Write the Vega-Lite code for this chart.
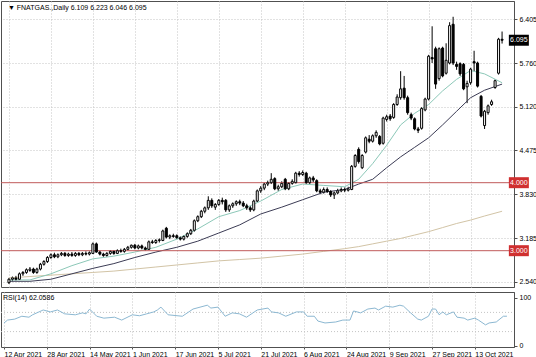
{
"$schema":"https://vega.github.io/schema/vega-lite/v6.json",
"padding":0,
"background":"white",
"spacing":3,
"config":{"view":{"stroke":"#505050","strokeWidth":1},"font":"Liberation Sans","axis":{"labelFont":"Liberation Sans","labelFontSize":7,"labelColor":"#000000","domainColor":"#505050","tickColor":"#505050","title":null}},
"datasets":{
"bars":[
{"i":0,"d":"2021-04-12","o":2.53,"h":2.60,"l":2.51,"c":2.58},
{"i":1,"d":"2021-04-13","o":2.58,"h":2.62,"l":2.55,"c":2.60},
{"i":2,"d":"2021-04-14","o":2.60,"h":2.63,"l":2.56,"c":2.58},
{"i":3,"d":"2021-04-15","o":2.58,"h":2.68,"l":2.57,"c":2.66},
{"i":4,"d":"2021-04-16","o":2.66,"h":2.70,"l":2.63,"c":2.68},
{"i":5,"d":"2021-04-19","o":2.68,"h":2.74,"l":2.66,"c":2.72},
{"i":6,"d":"2021-04-20","o":2.71,"h":2.76,"l":2.69,"c":2.73},
{"i":7,"d":"2021-04-21","o":2.73,"h":2.75,"l":2.66,"c":2.68},
{"i":8,"d":"2021-04-22","o":2.68,"h":2.75,"l":2.66,"c":2.73},
{"i":9,"d":"2021-04-23","o":2.73,"h":2.82,"l":2.71,"c":2.80},
{"i":10,"d":"2021-04-26","o":2.80,"h":2.86,"l":2.78,"c":2.84},
{"i":11,"d":"2021-04-27","o":2.84,"h":2.92,"l":2.82,"c":2.90},
{"i":12,"d":"2021-04-28","o":2.90,"h":2.96,"l":2.88,"c":2.94},
{"i":13,"d":"2021-04-29","o":2.94,"h":2.97,"l":2.89,"c":2.91},
{"i":14,"d":"2021-04-30","o":2.91,"h":2.96,"l":2.89,"c":2.94},
{"i":15,"d":"2021-05-03","o":2.94,"h":2.98,"l":2.92,"c":2.96},
{"i":16,"d":"2021-05-04","o":2.96,"h":2.98,"l":2.91,"c":2.93},
{"i":17,"d":"2021-05-05","o":2.93,"h":2.97,"l":2.91,"c":2.95},
{"i":18,"d":"2021-05-06","o":2.95,"h":2.98,"l":2.91,"c":2.93},
{"i":19,"d":"2021-05-07","o":2.93,"h":2.98,"l":2.91,"c":2.96},
{"i":20,"d":"2021-05-10","o":2.96,"h":2.98,"l":2.92,"c":2.94},
{"i":21,"d":"2021-05-11","o":2.94,"h":2.98,"l":2.92,"c":2.96},
{"i":22,"d":"2021-05-12","o":2.96,"h":2.99,"l":2.93,"c":2.95},
{"i":23,"d":"2021-05-13","o":2.95,"h":2.99,"l":2.93,"c":2.97},
{"i":24,"d":"2021-05-14","o":2.96,"h":3.12,"l":2.95,"c":3.10},
{"i":25,"d":"2021-05-17","o":3.10,"h":3.12,"l":2.97,"c":2.98},
{"i":26,"d":"2021-05-18","o":2.98,"h":3.00,"l":2.93,"c":2.95},
{"i":27,"d":"2021-05-19","o":2.95,"h":2.97,"l":2.91,"c":2.93},
{"i":28,"d":"2021-05-20","o":2.93,"h":2.98,"l":2.91,"c":2.96},
{"i":29,"d":"2021-05-21","o":2.96,"h":3.01,"l":2.94,"c":2.99},
{"i":30,"d":"2021-05-24","o":2.99,"h":3.00,"l":2.94,"c":2.96},
{"i":31,"d":"2021-05-25","o":2.96,"h":3.02,"l":2.95,"c":3.00},
{"i":32,"d":"2021-05-26","o":3.00,"h":3.03,"l":2.97,"c":2.99},
{"i":33,"d":"2021-05-27","o":2.99,"h":3.04,"l":2.97,"c":3.02},
{"i":34,"d":"2021-05-28","o":3.02,"h":3.07,"l":3.00,"c":3.05},
{"i":35,"d":"2021-05-31","o":3.05,"h":3.09,"l":3.03,"c":3.08},
{"i":36,"d":"2021-06-01","o":3.08,"h":3.10,"l":3.02,"c":3.04},
{"i":37,"d":"2021-06-02","o":3.04,"h":3.09,"l":3.02,"c":3.07},
{"i":38,"d":"2021-06-03","o":3.07,"h":3.09,"l":3.02,"c":3.04},
{"i":39,"d":"2021-06-04","o":3.04,"h":3.06,"l":3.00,"c":3.02},
{"i":40,"d":"2021-06-07","o":3.02,"h":3.15,"l":3.01,"c":3.13},
{"i":41,"d":"2021-06-08","o":3.13,"h":3.16,"l":3.10,"c":3.12},
{"i":42,"d":"2021-06-09","o":3.12,"h":3.17,"l":3.10,"c":3.15},
{"i":43,"d":"2021-06-10","o":3.15,"h":3.18,"l":3.12,"c":3.16},
{"i":44,"d":"2021-06-11","o":3.15,"h":3.31,"l":3.14,"c":3.29},
{"i":45,"d":"2021-06-14","o":3.33,"h":3.35,"l":3.18,"c":3.20},
{"i":46,"d":"2021-06-15","o":3.20,"h":3.24,"l":3.17,"c":3.22},
{"i":47,"d":"2021-06-16","o":3.22,"h":3.25,"l":3.19,"c":3.21},
{"i":48,"d":"2021-06-17","o":3.22,"h":3.24,"l":3.17,"c":3.19},
{"i":49,"d":"2021-06-18","o":3.19,"h":3.21,"l":3.15,"c":3.17},
{"i":50,"d":"2021-06-21","o":3.17,"h":3.23,"l":3.15,"c":3.21},
{"i":51,"d":"2021-06-22","o":3.21,"h":3.27,"l":3.19,"c":3.25},
{"i":52,"d":"2021-06-23","o":3.25,"h":3.32,"l":3.23,"c":3.30},
{"i":53,"d":"2021-06-24","o":3.30,"h":3.46,"l":3.28,"c":3.44},
{"i":54,"d":"2021-06-25","o":3.44,"h":3.52,"l":3.42,"c":3.50},
{"i":55,"d":"2021-06-28","o":3.50,"h":3.60,"l":3.48,"c":3.58},
{"i":56,"d":"2021-06-29","o":3.58,"h":3.65,"l":3.55,"c":3.63},
{"i":57,"d":"2021-06-30","o":3.63,"h":3.80,"l":3.60,"c":3.74},
{"i":58,"d":"2021-07-01","o":3.74,"h":3.77,"l":3.63,"c":3.66},
{"i":59,"d":"2021-07-02","o":3.64,"h":3.70,"l":3.60,"c":3.68},
{"i":60,"d":"2021-07-05","o":3.68,"h":3.76,"l":3.66,"c":3.74},
{"i":61,"d":"2021-07-06","o":3.74,"h":3.78,"l":3.68,"c":3.72},
{"i":62,"d":"2021-07-07","o":3.74,"h":3.76,"l":3.57,"c":3.60},
{"i":63,"d":"2021-07-08","o":3.60,"h":3.68,"l":3.57,"c":3.66},
{"i":64,"d":"2021-07-09","o":3.66,"h":3.71,"l":3.63,"c":3.69},
{"i":65,"d":"2021-07-12","o":3.69,"h":3.74,"l":3.66,"c":3.72},
{"i":66,"d":"2021-07-13","o":3.72,"h":3.75,"l":3.67,"c":3.70},
{"i":67,"d":"2021-07-14","o":3.70,"h":3.73,"l":3.64,"c":3.66},
{"i":68,"d":"2021-07-15","o":3.66,"h":3.69,"l":3.60,"c":3.63},
{"i":69,"d":"2021-07-16","o":3.63,"h":3.66,"l":3.57,"c":3.60},
{"i":70,"d":"2021-07-19","o":3.60,"h":3.75,"l":3.58,"c":3.73},
{"i":71,"d":"2021-07-20","o":3.73,"h":3.90,"l":3.71,"c":3.88},
{"i":72,"d":"2021-07-21","o":3.88,"h":3.95,"l":3.85,"c":3.92},
{"i":73,"d":"2021-07-22","o":3.92,"h":4.00,"l":3.89,"c":3.98},
{"i":74,"d":"2021-07-23","o":3.98,"h":4.03,"l":3.95,"c":4.00},
{"i":75,"d":"2021-07-26","o":4.00,"h":4.14,"l":3.98,"c":4.05},
{"i":76,"d":"2021-07-27","o":4.06,"h":4.08,"l":3.89,"c":3.91},
{"i":77,"d":"2021-07-28","o":3.91,"h":3.97,"l":3.88,"c":3.94},
{"i":78,"d":"2021-07-29","o":3.94,"h":4.02,"l":3.92,"c":3.99},
{"i":79,"d":"2021-07-30","o":4.05,"h":4.07,"l":3.89,"c":3.91},
{"i":80,"d":"2021-08-02","o":3.91,"h":4.01,"l":3.89,"c":3.99},
{"i":81,"d":"2021-08-03","o":3.99,"h":4.05,"l":3.97,"c":4.02},
{"i":82,"d":"2021-08-04","o":4.00,"h":4.16,"l":3.99,"c":4.14},
{"i":83,"d":"2021-08-05","o":4.14,"h":4.17,"l":4.09,"c":4.12},
{"i":84,"d":"2021-08-06","o":4.12,"h":4.18,"l":4.10,"c":4.15},
{"i":85,"d":"2021-08-09","o":4.14,"h":4.16,"l":3.98,"c":4.00},
{"i":86,"d":"2021-08-10","o":4.00,"h":4.09,"l":3.98,"c":4.07},
{"i":87,"d":"2021-08-11","o":4.07,"h":4.10,"l":4.01,"c":4.04},
{"i":88,"d":"2021-08-12","o":4.03,"h":4.05,"l":3.86,"c":3.88},
{"i":89,"d":"2021-08-13","o":3.88,"h":3.91,"l":3.83,"c":3.86},
{"i":90,"d":"2021-08-16","o":3.86,"h":3.93,"l":3.84,"c":3.90},
{"i":91,"d":"2021-08-17","o":3.90,"h":3.93,"l":3.85,"c":3.87},
{"i":92,"d":"2021-08-18","o":3.87,"h":3.89,"l":3.79,"c":3.82},
{"i":93,"d":"2021-08-19","o":3.82,"h":3.87,"l":3.76,"c":3.85},
{"i":94,"d":"2021-08-20","o":3.85,"h":3.91,"l":3.83,"c":3.88},
{"i":95,"d":"2021-08-23","o":3.88,"h":3.93,"l":3.86,"c":3.90},
{"i":96,"d":"2021-08-24","o":3.90,"h":3.93,"l":3.86,"c":3.89},
{"i":97,"d":"2021-08-25","o":3.89,"h":3.94,"l":3.87,"c":3.91},
{"i":98,"d":"2021-08-26","o":3.90,"h":4.26,"l":3.89,"c":4.24},
{"i":99,"d":"2021-08-27","o":4.24,"h":4.42,"l":4.22,"c":4.40},
{"i":100,"d":"2021-08-30","o":4.49,"h":4.52,"l":4.28,"c":4.31},
{"i":101,"d":"2021-08-31","o":4.22,"h":4.42,"l":4.20,"c":4.40},
{"i":102,"d":"2021-09-01","o":4.45,"h":4.68,"l":4.43,"c":4.66},
{"i":103,"d":"2021-09-02","o":4.64,"h":4.70,"l":4.58,"c":4.61},
{"i":104,"d":"2021-09-03","o":4.61,"h":4.71,"l":4.59,"c":4.69},
{"i":105,"d":"2021-09-06","o":4.69,"h":4.77,"l":4.66,"c":4.74},
{"i":106,"d":"2021-09-07","o":4.68,"h":4.70,"l":4.55,"c":4.57},
{"i":107,"d":"2021-09-08","o":4.58,"h":4.97,"l":4.56,"c":4.95},
{"i":108,"d":"2021-09-09","o":4.93,"h":5.00,"l":4.90,"c":4.97},
{"i":109,"d":"2021-09-10","o":4.98,"h":5.01,"l":4.91,"c":4.94},
{"i":110,"d":"2021-09-13","o":4.96,"h":5.17,"l":4.94,"c":5.15},
{"i":111,"d":"2021-09-14","o":5.15,"h":5.30,"l":5.13,"c":5.26},
{"i":112,"d":"2021-09-15","o":5.25,"h":5.64,"l":5.22,"c":5.38},
{"i":113,"d":"2021-09-16","o":5.39,"h":5.57,"l":5.22,"c":5.25},
{"i":114,"d":"2021-09-17","o":5.25,"h":5.28,"l":5.00,"c":5.03},
{"i":115,"d":"2021-09-20","o":5.00,"h":5.03,"l":4.92,"c":4.95},
{"i":116,"d":"2021-09-21","o":4.94,"h":4.96,"l":4.77,"c":4.79},
{"i":117,"d":"2021-09-22","o":4.79,"h":4.82,"l":4.73,"c":4.77},
{"i":118,"d":"2021-09-23","o":4.80,"h":5.11,"l":4.78,"c":5.09},
{"i":119,"d":"2021-09-24","o":5.07,"h":5.25,"l":5.05,"c":5.23},
{"i":120,"d":"2021-09-27","o":5.23,"h":5.88,"l":5.21,"c":5.86},
{"i":121,"d":"2021-09-28","o":5.84,"h":6.30,"l":5.76,"c":5.82},
{"i":122,"d":"2021-09-29","o":5.97,"h":6.00,"l":5.38,"c":5.45},
{"i":123,"d":"2021-09-30","o":5.53,"h":5.99,"l":5.50,"c":5.97},
{"i":124,"d":"2021-10-01","o":5.98,"h":6.00,"l":5.55,"c":5.57},
{"i":125,"d":"2021-10-04","o":5.61,"h":6.05,"l":5.59,"c":5.80},
{"i":126,"d":"2021-10-05","o":5.76,"h":6.36,"l":5.74,"c":6.31},
{"i":127,"d":"2021-10-06","o":6.33,"h":6.44,"l":5.73,"c":5.76},
{"i":128,"d":"2021-10-07","o":5.74,"h":5.78,"l":5.66,"c":5.71},
{"i":129,"d":"2021-10-08","o":5.75,"h":5.77,"l":5.57,"c":5.60},
{"i":130,"d":"2021-10-11","o":5.74,"h":5.76,"l":5.36,"c":5.38},
{"i":131,"d":"2021-10-12","o":5.41,"h":5.50,"l":5.17,"c":5.46},
{"i":132,"d":"2021-10-13","o":5.47,"h":5.69,"l":5.44,"c":5.67},
{"i":133,"d":"2021-10-14","o":5.78,"h":5.94,"l":5.64,"c":5.76},
{"i":134,"d":"2021-10-15","o":5.76,"h":5.78,"l":5.40,"c":5.42},
{"i":135,"d":"2021-10-18","o":5.27,"h":5.29,"l":4.96,"c":4.98},
{"i":136,"d":"2021-10-19","o":4.84,"h":5.07,"l":4.79,"c":5.05},
{"i":137,"d":"2021-10-20","o":5.03,"h":5.15,"l":5.00,"c":5.13},
{"i":138,"d":"2021-10-21","o":5.15,"h":5.22,"l":5.13,"c":5.19},
{"i":139,"d":"2021-10-22","o":5.40,"h":5.52,"l":5.38,"c":5.50},
{"i":140,"d":"2021-10-25","o":5.61,"h":6.13,"l":5.59,"c":6.11},
{"i":141,"d":"2021-10-26","o":6.109,"h":6.223,"l":6.046,"c":6.095}
],
"ma":[
{"i":0,"fast":2.57,"mid":2.55,"slow":2.60},
{"i":6,"fast":2.57,"mid":2.55,"slow":2.62},
{"i":12,"fast":2.66,"mid":2.58,"slow":2.64},
{"i":18,"fast":2.78,"mid":2.66,"slow":2.66},
{"i":24,"fast":2.88,"mid":2.74,"slow":2.68},
{"i":30,"fast":2.92,"mid":2.81,"slow":2.70},
{"i":36,"fast":2.98,"mid":2.90,"slow":2.73},
{"i":42,"fast":3.05,"mid":2.98,"slow":2.76},
{"i":48,"fast":3.17,"mid":3.05,"slow":2.79},
{"i":54,"fast":3.32,"mid":3.14,"slow":2.82},
{"i":60,"fast":3.50,"mid":3.26,"slow":2.85},
{"i":66,"fast":3.59,"mid":3.38,"slow":2.87},
{"i":72,"fast":3.73,"mid":3.54,"slow":2.89},
{"i":78,"fast":3.90,"mid":3.64,"slow":2.92},
{"i":84,"fast":3.98,"mid":3.75,"slow":2.95},
{"i":90,"fast":3.96,"mid":3.86,"slow":2.99},
{"i":96,"fast":3.94,"mid":3.90,"slow":3.03},
{"i":100,"fast":4.05,"mid":3.98,"slow":3.06},
{"i":104,"fast":4.28,"mid":4.05,"slow":3.10},
{"i":108,"fast":4.55,"mid":4.22,"slow":3.14},
{"i":112,"fast":4.85,"mid":4.38,"slow":3.18},
{"i":116,"fast":5.02,"mid":4.52,"slow":3.23},
{"i":120,"fast":5.15,"mid":4.66,"slow":3.28},
{"i":124,"fast":5.35,"mid":4.85,"slow":3.34},
{"i":128,"fast":5.52,"mid":5.05,"slow":3.40},
{"i":132,"fast":5.65,"mid":5.25,"slow":3.45},
{"i":136,"fast":5.60,"mid":5.36,"slow":3.51},
{"i":141,"fast":5.47,"mid":5.45,"slow":3.58}
],
"rsi":[
{"i":0,"v":48},{"i":1,"v":54},{"i":3,"v":56},{"i":5,"v":62},{"i":7,"v":60},{"i":8,"v":65},{"i":11,"v":75},{"i":13,"v":71},{"i":15,"v":75},{"i":17,"v":67},{"i":20,"v":65},{"i":22,"v":69},{"i":23,"v":67},{"i":24,"v":77},{"i":26,"v":62},{"i":28,"v":58},{"i":31,"v":60},{"i":33,"v":54},{"i":36,"v":65},{"i":38,"v":63},{"i":40,"v":67},{"i":42,"v":71},{"i":43,"v":75},{"i":44,"v":81},{"i":46,"v":65},{"i":50,"v":62},{"i":53,"v":77},{"i":57,"v":85},{"i":58,"v":79},{"i":60,"v":81},{"i":62,"v":62},{"i":64,"v":69},{"i":66,"v":67},{"i":68,"v":60},{"i":71,"v":75},{"i":74,"v":79},{"i":75,"v":71},{"i":77,"v":69},{"i":79,"v":62},{"i":82,"v":71},{"i":84,"v":71},{"i":85,"v":62},{"i":87,"v":62},{"i":88,"v":52},{"i":90,"v":48},{"i":93,"v":50},{"i":95,"v":54},{"i":97,"v":54},{"i":98,"v":73},{"i":100,"v":69},{"i":102,"v":77},{"i":104,"v":79},{"i":105,"v":75},{"i":107,"v":83},{"i":109,"v":81},{"i":111,"v":85},{"i":112,"v":83},{"i":114,"v":69},{"i":116,"v":56},{"i":117,"v":54},{"i":119,"v":62},{"i":120,"v":77},{"i":121,"v":77},{"i":122,"v":65},{"i":123,"v":71},{"i":124,"v":65},{"i":126,"v":71},{"i":127,"v":60},{"i":129,"v":58},{"i":130,"v":54},{"i":132,"v":58},{"i":133,"v":54},{"i":135,"v":44},{"i":136,"v":48},{"i":138,"v":50},{"i":140,"v":62},{"i":141,"v":62.06}
],
"levels":[{"v":4.0,"label":"4.000"},{"v":3.0,"label":"3.000"}],
"last":[{"v":6.095,"label":"6.095"}],
"rsilevels":[{"v":70},{"v":30}],
"info":[{"t":"▼ FNATGAS.,Daily  6.109 6.223 6.046 6.095","r":"RSI(14) 62.0586"}]
},
"vconcat":[
{
"width":513,"height":286,
"layer":[
{"data":{"name":"bars"},"mark":{"type":"rule","color":"#000000","strokeWidth":1},
 "encoding":{
  "x":{"field":"i","type":"quantitative","scale":{"domain":[-0.84,142.98],"nice":false,"zero":false},
       "axis":{"title":null,"values":[0,6,12,18,24,30,36,42,48,54,60,66,72,78,84,90,96,102,108,114,120,126,132,138],"labels":false,"ticks":false,"domain":false,"grid":true,"gridColor":"#c4c4c4","gridDash":[1,2],"gridWidth":1}},
  "y":{"field":"l","type":"quantitative","scale":{"domain":[2.466,6.672],"nice":false,"zero":false},
       "axis":{"title":null,"orient":"right","values":[2.540,2.865,3.185,3.505,3.830,4.150,4.475,4.795,5.120,5.440,5.760,6.085,6.405],"labelExpr":"datum.value == 6.085 ? '' : format(datum.value, '.3f')","grid":true,"gridColor":"#c4c4c4","gridDash":[1,2],"tickSize":3,"labelPadding":2,"domain":true}},
  "y2":{"field":"h"}}},
{"data":{"name":"ma"},"mark":{"type":"line","color":"#d2c4a6","strokeWidth":1},
 "encoding":{"x":{"field":"i","type":"quantitative"},"y":{"field":"slow","type":"quantitative"}}},
{"data":{"name":"ma"},"mark":{"type":"line","color":"#3c3c55","strokeWidth":1},
 "encoding":{"x":{"field":"i","type":"quantitative"},"y":{"field":"mid","type":"quantitative"}}},
{"data":{"name":"ma"},"mark":{"type":"line","color":"#8cc8b8","strokeWidth":1},
 "encoding":{"x":{"field":"i","type":"quantitative"},"y":{"field":"fast","type":"quantitative"}}},
{"data":{"name":"levels"},"mark":{"type":"rule","color":"#c05a5a","strokeWidth":1},
 "encoding":{"y":{"field":"v","type":"quantitative"}}},
{"data":{"name":"bars"},"mark":{"type":"bar","width":2,"stroke":"#000000","strokeWidth":1},
 "encoding":{
  "x":{"field":"i","type":"quantitative"},
  "y":{"field":"o","type":"quantitative"},
  "y2":{"field":"c"},
  "fill":{"condition":{"test":"datum.c >= datum.o","value":"#ffffff"},"value":"#000000"}}},
{"data":{"name":"levels"},"mark":{"type":"point","shape":"M-1,-0.55L1,-0.55L1,0.55L-1,0.55Z","size":400,"filled":true,"color":"#d03030","opacity":1},
 "encoding":{"x":{"datum":145.8,"type":"quantitative"},"y":{"field":"v","type":"quantitative"}}},
{"data":{"name":"levels"},"mark":{"type":"text","color":"#ffffff","fontSize":7,"align":"center","baseline":"middle"},
 "encoding":{"x":{"datum":145.8,"type":"quantitative"},"y":{"field":"v","type":"quantitative"},"text":{"field":"label"}}},
{"data":{"name":"last"},"mark":{"type":"point","shape":"M-1,-0.55L1,-0.55L1,0.55L-1,0.55Z","size":400,"filled":true,"color":"#000000","opacity":1},
 "encoding":{"x":{"datum":145.8,"type":"quantitative"},"y":{"field":"v","type":"quantitative"}}},
{"data":{"name":"last"},"mark":{"type":"text","color":"#ffffff","fontSize":7,"align":"center","baseline":"middle"},
 "encoding":{"x":{"datum":145.8,"type":"quantitative"},"y":{"field":"v","type":"quantitative"},"text":{"field":"label"}}},
{"data":{"name":"info"},"mark":{"type":"text","color":"#000000","fontSize":7,"align":"left","baseline":"middle"},
 "encoding":{"x":{"datum":-0.3,"type":"quantitative"},"y":{"datum":6.57,"type":"quantitative"},"text":{"field":"t"}}}
]
},
{
"width":513,"height":55,
"layer":[
{"data":{"name":"rsilevels"},"mark":{"type":"rule","color":"#c4c4c4","strokeDash":[1,2],"strokeWidth":1},
 "encoding":{
  "x":{"datum":-0.84,"type":"quantitative","scale":{"domain":[-0.84,142.98],"nice":false,"zero":false},
       "axis":{"title":null,"values":[0,6,12,18,24,30,36,42,48,54,60,66,72,78,84,90,96,102,108,114,120,126,132,138],"labelExpr":"datum.value % 12 == 0 ? ['12 Apr 2021','28 Apr 2021','14 May 2021','1 Jun 2021','17 Jun 2021','5 Jul 2021','21 Jul 2021','6 Aug 2021','24 Aug 2021','9 Sep 2021','27 Sep 2021','13 Oct 2021'][datum.value/12] : ''","labelAlign":"left","labelDx":-1,"labelPadding":1,"labelBaseline":"top","tickSize":2,"domain":false,"grid":true,"gridColor":"#c4c4c4","gridDash":[1,2],"labelFlush":false,"labelOverlap":false}},
  "x2":{"datum":142.98},
  "y":{"field":"v","type":"quantitative","scale":{"domain":[-2.1,112.5],"nice":false,"zero":false},
       "axis":{"title":null,"orient":"right","values":[0,30,70,100],"grid":false,"tickSize":3,"labelPadding":2}}}},
{"data":{"name":"rsi"},"mark":{"type":"line","color":"#8cb8d2","strokeWidth":1},
 "encoding":{"x":{"field":"i","type":"quantitative"},"y":{"field":"v","type":"quantitative"}}},
{"data":{"name":"info"},"mark":{"type":"text","color":"#000000","fontSize":7,"align":"left","baseline":"middle"},
 "encoding":{"x":{"datum":-0.3,"type":"quantitative"},"y":{"datum":101,"type":"quantitative"},"text":{"field":"r"}}}
]
}
]
}
